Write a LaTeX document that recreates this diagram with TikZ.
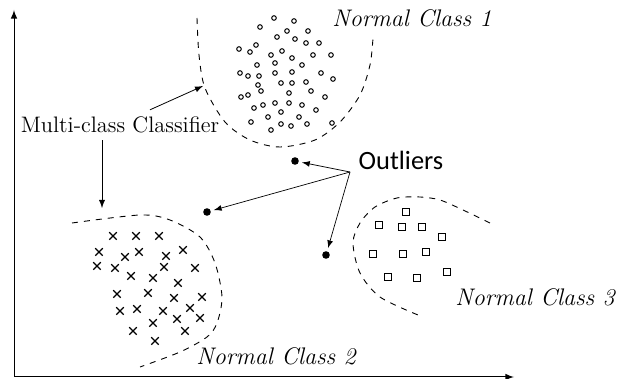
\documentclass[tikz,border=0pt]{standalone}
\usepackage{fontspec}
\newfontfamily\outfont{Carlito}
\usetikzlibrary{shapes.misc}

\begin{document}
\begin{tikzpicture}[x=0.5pt, y=-0.5pt, >=latex,
    ring/.style={circle, draw, line width=0.5pt, inner sep=0pt, minimum size=2.3pt},
    xmark/.style={cross out, draw, line width=0.55pt, inner sep=0pt, minimum size=3.2pt},
    box/.style={rectangle, draw, line width=0.45pt, inner sep=0pt, minimum size=3.5pt},
    outlier/.style={circle, fill, inner sep=0pt, minimum size=3.8pt},
    border/.style={dashed, dash pattern=on 3pt off 3pt, line width=0.45pt},
    classlabel/.style={font=\fontsize{12}{14}\selectfont\itshape},]
    \useasboundingbox (0,0) rectangle (628,379);
    % axes
    \coordinate (origin) at (14,377);
    \draw[->, line width=0.5pt] (origin) -- (14,10);
    \draw[->, line width=0.5pt] (origin) -- (514,377);
    % class boundaries
    \draw[border] plot[smooth] coordinates {(197,18) (199,55) (205,88) (225,122) (250,140)
        (280,147) (315,140) (340,122) (360,95) (370,65) (373,38)};
    \draw[border] plot[smooth] coordinates {(72,223) (140,215) (170,220) (200,237) (215,263)
        (222,297) (217,323) (207,337) (180,352) (140,367)};
    \draw[border] plot[smooth] coordinates {(490,223) (463,210) (440,200) (420,197) (397,198)
        (375,207) (360,223) (353,243) (360,273) (380,297) (418,315)};
    % normal classes
    \foreach \x/\y [count=\i] in {274/18, 260/27, 294/21, 287/31, 308/31, 277/37, 295/39,
        239/49, 250/52, 256/45, 306/43, 319/43, 271/55, 282/51, 292/58, 313/55, 331/55,
        257/65, 275/63, 302/65, 240/73, 248/76, 259/76, 275/73, 292/72, 321/73, 333/79,
        258/85, 281/83, 292/83, 306/82, 261/91, 289/93, 311/91, 241/97, 248/95, 325/97,
        254/108, 263/105, 275/103, 289/103, 302/105, 281/112, 316/110, 268/117, 299/117,
        251/122, 281/124, 291/126, 307/124, 332/123, 271/130}
        \node[ring] (r\i) at (\x,\y) {};
    \foreach \x/\y [count=\i] in {113/236, 136/236, 159/236, 99/252, 125/257, 139/252,
        166/256, 183/250, 97/266, 115/268, 164/267, 195/268, 131/276, 153/278, 178/283,
        117/294, 148/293, 174/298, 202/297, 120/311, 137/309, 163/311, 190/308, 153/323,
        177/319, 200/318, 133/331, 185/331, 155/341}
        \node[xmark] (x\i) at (\x,\y) {};
    \foreach \x/\y [count=\i] in {406/212, 379/225, 402/227, 422/227, 442/237, 373/254,
        403/254, 426/252, 447/272, 388/277, 417/278}
        \node[box] (s\i) at (\x,\y) {};
    \node[classlabel] (cls1) at (412,18) {Normal Class 1};
    \node[classlabel] (cls2) at (276,356) {Normal Class 2};
    \node[classlabel] (cls3) at (535,297) {Normal Class 3};
    % classifier
    \node[font=\fontsize{11.2}{13}\selectfont] (mcc) at (120,125) {Multi-class Classifier};
    \coordinate (c1) at (203,86);
    \coordinate (c2) at (102,208);
    \draw[->, line width=0.4pt] ([xshift=15pt]mcc.north) -- (c1);
    \draw[->, line width=0.4pt] ([xshift=-9pt]mcc.south) -- (c2);
    % outliers
    \node[outlier] (o1) at (295,161) {};
    \node[outlier] (o2) at (207,212) {};
    \node[outlier] (o3) at (326,255) {};
    \node[font=\outfont\fontsize{13.2}{15}\selectfont] (out) at (401,160) {Outliers};
    \coordinate (hub) at (350,172);
    \foreach \o in {o1,o2,o3}
        \draw[->, line width=0.35pt, shorten >=1.5pt] (hub) -- (\o);
\end{tikzpicture}
\end{document}
